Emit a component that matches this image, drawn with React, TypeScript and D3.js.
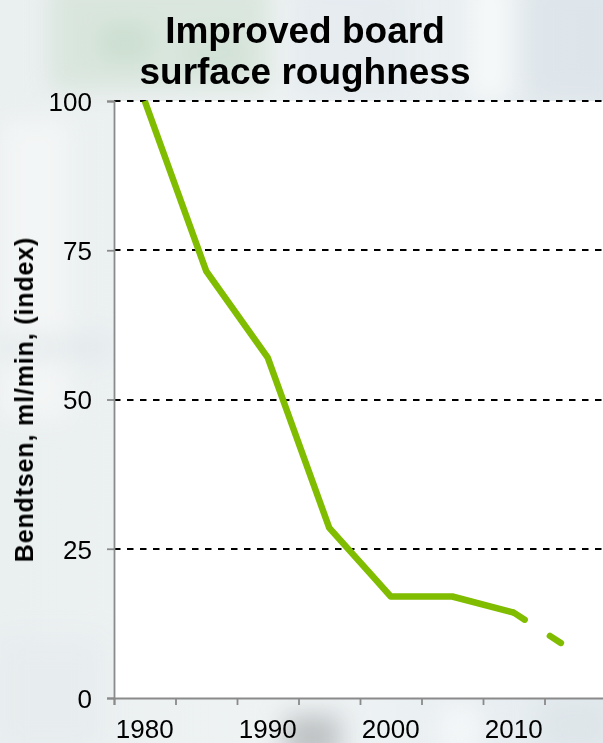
import React, { useEffect, useRef } from 'react'
import * as d3 from 'd3'

// roughness index, 1980 = 100
const years = [1980, 1985, 1990, 1995, 2000, 2005, 2010]
const roughness = [100, 71.5, 57, 28.5, 17, 17, 14.3]
const forecastYears = [2010, 2014]
const forecastValues = [14.3, 9]

const yTicks = [0, 25, 50, 75, 100]
const yGrid = [25, 50, 75, 100]
const xLabels = [1980, 1990, 2000, 2010]
const xTickMarks = [1977.5, 1982.5, 1987.5, 1992.5, 1997.5, 2002.5, 2007.5, 2012.5]

const titleLines = ['Improved board', 'surface roughness']
const yTitle = 'Bendtsen, ml/min, (index)'

const W = 603
const H = 743
const margin = { top: 101, left: 114, right: -3, bottom: 45 }
const font = '"Liberation Sans", Arial, sans-serif'
const green = '#80bc00'

export default function App () {
	const ref = useRef<SVGSVGElement>(null)

	useEffect(() => {
		const svg = d3.select(ref.current)
		svg.selectAll('*').remove()

		const x = d3.scaleLinear()
			.domain([1977.5, 2017.5])
			.range([margin.left, W - margin.right])

		const y = d3.scaleLinear()
			.domain([0, 100])
			.range([H - margin.bottom, margin.top])

		// blurry photo-ish backdrop
		const defs = svg.append('defs')
		defs.append('filter').attr('id', 'blur')
			.attr('x', '-50%').attr('y', '-50%').attr('width', '200%').attr('height', '200%')
			.append('feGaussianBlur').attr('stdDeviation', 12)

		const bg = defs.append('linearGradient').attr('id', 'bg')
			.attr('x1', 0).attr('y1', 0).attr('x2', 1).attr('y2', 0)
		bg.append('stop').attr('offset', 0).attr('stop-color', '#eaeff0')
		bg.append('stop').attr('offset', 0.5).attr('stop-color', '#eff3f4')
		bg.append('stop').attr('offset', 1).attr('stop-color', '#e4ebef')

		svg.append('rect').attr('width', W).attr('height', H).attr('fill', 'url(#bg)')

		const blobs = svg.append('g').attr('filter', 'url(#blur)')
		const shapes: [number, number, number, number, string, number][] = [
			[50, -20, 220, 110, '#d5e4d8', 0.8],
			[100, 25, 50, 35, '#b8d2be', 0.45],
			[185, 40, 60, 25, '#c4d9c8', 0.45],
			[0, 120, 70, 300, '#f4f6f6', 0.9],
			[290, -20, 120, 120, '#e3eaee', 0.8],
			[470, -20, 40, 120, '#f7f9fa', 0.9],
			[525, -20, 100, 120, '#dbe3e8', 0.7],
			[0, 335, 110, 25, '#e0e7ea', 0.7],
			[285, 715, 55, 45, '#a9aeb1', 0.7],
			[440, 705, 40, 50, '#f5f7f8', 0.9],
			[540, 700, 70, 50, '#dce3e7', 0.7],
			[0, 640, 100, 110, '#e6ebee', 0.7]
		]
		blobs.selectAll('rect').data(shapes).enter().append('rect')
			.attr('x', d => d[0]).attr('y', d => d[1])
			.attr('width', d => d[2]).attr('height', d => d[3])
			.attr('fill', d => d[4]).attr('opacity', d => d[5])

		// plot area
		svg.append('rect')
			.attr('x', x(1977.5)).attr('y', y(100))
			.attr('width', x(2017.5) - x(1977.5)).attr('height', y(0) - y(100))
			.attr('fill', '#ffffff')

		// gridlines
		svg.append('g').selectAll('line').data(yGrid).enter().append('line')
			.attr('x1', x(1977.5)).attr('x2', x(2017.5))
			.attr('y1', d => Math.round(y(d))).attr('y2', d => Math.round(y(d)))
			.attr('stroke', '#000').attr('stroke-width', 2)
			.attr('stroke-dasharray', '6.5 6.5')

		// y axis
		const yAxis = svg.append('g')
			.attr('transform', `translate(${x(1977.5)},0)`)
			.call(d3.axisLeft(y).tickValues(yTicks).tickSize(7).tickPadding(15))
		yAxis.select('.domain').attr('stroke', '#8a8a8a').attr('stroke-width', 1.8)
		yAxis.selectAll('.tick line').attr('stroke', '#8a8a8a').attr('stroke-width', 1.8)
		yAxis.selectAll('.tick text')
			.attr('font-family', font).attr('font-size', 26).attr('fill', '#000')
			.attr('dy', '0.36em')

		// x axis: tick marks at category edges, labels centred
		const xAxis = svg.append('g')
			.attr('transform', `translate(0,${y(0)})`)
			.call(d3.axisBottom(x).tickValues(xTickMarks).tickSize(7).tickFormat(() => ''))
		xAxis.select('.domain').attr('stroke', '#8a8a8a').attr('stroke-width', 1.8)
		xAxis.selectAll('.tick line').attr('stroke', '#8a8a8a').attr('stroke-width', 1.8)

		svg.append('g').selectAll('text').data(xLabels).enter().append('text')
			.attr('x', d => x(d)).attr('y', y(0) + 40)
			.attr('text-anchor', 'middle')
			.attr('font-family', font).attr('font-size', 26)
			.text(d => d)

		// series
		const line = d3.line<number>()
			.x((d, i) => x(years[i]))
			.y(d => y(d))

		svg.append('path')
			.datum(roughness)
			.attr('d', line)
			.attr('fill', 'none')
			.attr('stroke', green)
			.attr('stroke-width', 6.5)
			.attr('stroke-linejoin', 'round')

		const fline = d3.line<number>()
			.x((d, i) => x(forecastYears[i]))
			.y(d => y(d))

		svg.append('path')
			.datum(forecastValues)
			.attr('d', fline)
			.attr('fill', 'none')
			.attr('stroke', green)
			.attr('stroke-width', 6.5)
			.attr('stroke-linecap', 'round')
			.attr('stroke-dasharray', '13 30')

		// titles
		svg.append('text')
			.attr('text-anchor', 'middle')
			.attr('font-family', font).attr('font-size', 37).attr('font-weight', 'bold')
			.selectAll('tspan').data(titleLines).enter().append('tspan')
			.attr('x', 305)
			.attr('y', (d, i) => 43 + i * 41)
			.text(d => d)

		svg.append('text')
			.attr('transform', `translate(33,${(y(0) + y(100)) / 2}) rotate(-90)`)
			.attr('text-anchor', 'middle')
			.attr('font-family', font).attr('font-size', 25).attr('font-weight', 'bold')
			.attr('letter-spacing', 0.85)
			.text(yTitle)
	}, [])

	return (
		<svg ref={ref} width={W} height={H}
			style={{ position: 'absolute', left: 0, top: 0, display: 'block' }} />
	)
}
